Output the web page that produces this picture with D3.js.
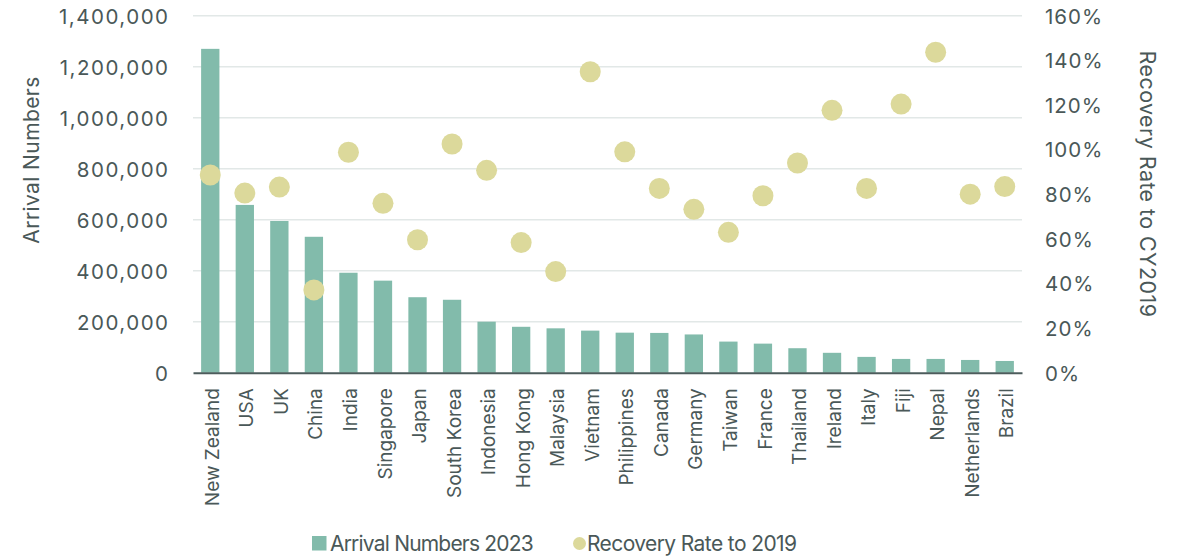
<!DOCTYPE html>
<html><head><meta charset="utf-8">
<script src="https://cdn.jsdelivr.net/npm/d3@7"></script>
<style>
body{margin:0;background:#fff;}
text{font-family:Inter,"Noto Sans",sans-serif;fill:#4a5858;}
</style></head>
<body><svg id="c" width="1186" height="559"></svg>
<script>
const categories = ["New Zealand","USA","UK","China","India","Singapore","Japan","South Korea","Indonesia","Hong Kong","Malaysia","Vietnam","Philippines","Canada","Germany","Taiwan","France","Thailand","Ireland","Italy","Fiji","Nepal","Netherlands","Brazil"];
const arrivals = [1270000,658000,595000,533000,392000,361000,296000,286000,200000,180000,174000,165000,157000,156000,150000,122000,114000,96000,78000,62000,54000,54000,50000,46000];
const recovery = [88.6,80.5,83.2,37.1,98.8,75.9,59.6,102.5,90.7,58.3,45.3,134.9,99.0,82.6,73.2,62.9,79.3,94.0,117.6,82.6,120.4,143.6,80.0,83.4];
const leftTicks = [0,200000,400000,600000,800000,1000000,1200000,1400000];
const rightTicks = [0,20,40,60,80,100,120,140,160];
const seriesNames = ["Arrival Numbers 2023","Recovery Rate to 2019"];

const barColor = "#82bbab", dotColor = "#dcd99b";
const svg = d3.select("#c");
const m = {l:193, r:1022, t:15.7, b:372.7};

const x = d3.scaleBand().domain(categories).range([m.l, m.r]).paddingInner(0.47).paddingOuter(0.235);
const yL = d3.scaleLinear().domain([0,1400000]).range([m.b, m.t]);
const yR = d3.scaleLinear().domain([0,160]).range([m.b, m.t]);

// gridlines
svg.append("g").selectAll("line").data(leftTicks.slice(1)).join("line")
  .attr("x1", m.l).attr("x2", m.r)
  .attr("y1", d=>yL(d)).attr("y2", d=>yL(d))
  .attr("stroke", "#e2e8e7").attr("stroke-width", 1.5);

// left axis
const gL = svg.append("g").attr("transform", `translate(${m.l},0)`)
  .call(d3.axisLeft(yL).tickValues(leftTicks).tickFormat(d3.format(",")).tickSize(0).tickPadding(23.5));
gL.select(".domain").remove();
gL.selectAll("text").style("font-size","20.5px").style("letter-spacing","1.5px").attr("dy","0.36em").style("fill","#4a5858");

// right axis
const gR = svg.append("g").attr("transform", `translate(${m.r},0)`)
  .call(d3.axisRight(yR).tickValues(rightTicks).tickFormat(d=>d+"%").tickSize(0).tickPadding(23));
gR.select(".domain").remove();
gR.selectAll("text").style("font-size","20.5px").style("letter-spacing","1px").attr("dy","0.36em").style("fill","#4a5858");

// bars
svg.append("g").selectAll("rect").data(categories).join("rect")
  .attr("x", d=>x(d)).attr("width", x.bandwidth())
  .attr("y", (d,i)=>yL(arrivals[i])).attr("height", (d,i)=>m.b - yL(arrivals[i]))
  .attr("fill", barColor);

// bottom axis
const gB = svg.append("g").attr("transform", `translate(0,${m.b})`)
  .call(d3.axisBottom(x).tickSize(0).tickPadding(0));
gB.select(".domain").attr("stroke","#4d5c5c").attr("stroke-width",2);
gB.selectAll("text")
  .style("font-size","19px")
  .attr("transform","rotate(-90)")
  .attr("text-anchor","end")
  .attr("x",-15.5).attr("y",0).attr("dy","0.45em")
  .style("fill","#4a5858");

// dots
svg.append("g").selectAll("circle").data(categories).join("circle")
  .attr("cx", d=>x(d)+x.bandwidth()/2)
  .attr("cy", (d,i)=>yR(recovery[i]))
  .attr("r", 10.5).attr("fill", dotColor);

// axis titles
svg.append("text").attr("transform","translate(39,160) rotate(-90)")
  .attr("text-anchor","middle").style("font-size","21px").style("letter-spacing","0.4px").text("Arrival Numbers");
svg.append("text").attr("transform","translate(1140,184) rotate(90)")
  .attr("text-anchor","middle").style("font-size","21.5px").style("letter-spacing","0.4px").text("Recovery Rate to CY2019");

// legend
const lg = svg.append("g");
lg.append("rect").attr("x",312).attr("y",536).attr("width",14.5).attr("height",14.5).attr("fill",barColor);
lg.append("text").attr("x",330).attr("y",543.5).attr("dy","0.36em").style("font-size","21px").style("letter-spacing","-0.8px").text(seriesNames[0]);
lg.append("circle").attr("cx",579.5).attr("cy",543.5).attr("r",6.5).attr("fill",dotColor);
lg.append("text").attr("x",587).attr("y",543.5).attr("dy","0.36em").style("font-size","21px").style("letter-spacing","-0.6px").text(seriesNames[1]);
</script></body></html>
